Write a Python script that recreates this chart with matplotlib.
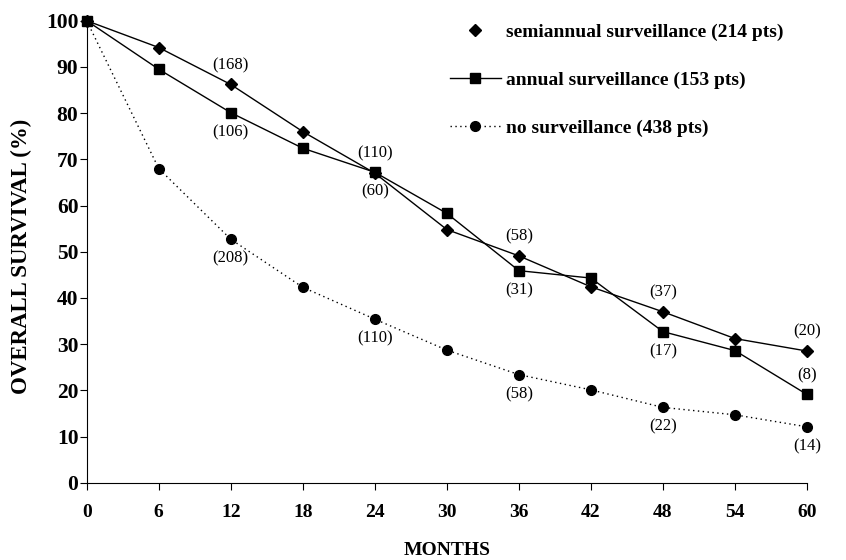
import matplotlib
matplotlib.use("Agg")
import matplotlib.pyplot as plt
from matplotlib.lines import Line2D

plt.rcParams['font.family'] = ['Liberation Serif', 'DejaVu Serif']

# data
months = [0, 6, 12, 18, 24, 30, 36, 42, 48, 54, 60]
semiannual = [100, 94.2, 86.2, 76.0, 67.0, 54.8, 49.1, 42.4, 37.0, 31.2, 28.5]
annual = [100, 89.5, 80.1, 72.4, 67.2, 58.3, 45.9, 44.3, 32.7, 28.6, 19.1]
no_surv = [100, 68.0, 52.7, 42.3, 35.4, 28.7, 23.4, 20.1, 16.3, 14.7, 12.1]

labels = ["semiannual surveillance (214 pts)",
          "annual surveillance (153 pts)",
          "no surveillance (438 pts)"]

# patients at risk: (month, text) and for annual also above(+1)/below(-1)
semi_risk = [(12, "(168)"), (24, "(110)"), (36, "(58)"), (48, "(37)"), (60, "(20)")]
annual_risk = [(12, "(106)", -1), (24, "(60)", -1), (36, "(31)", -1), (48, "(17)", -1), (60, "(8)", 1)]
no_risk = [(12, "(208)"), (24, "(110)"), (36, "(58)"), (48, "(22)"), (60, "(14)")]

fig = plt.figure(figsize=(8.46, 5.6), dpi=100)
ax = fig.add_axes([0.1025, 0.138, 0.8514, 0.825])

ax.plot(months, semiannual, '-', color='black', lw=1.0, marker='D', ms=6.5, clip_on=False, zorder=3)
ax.plot(months, annual, '-', color='black', lw=1.0, marker='s', ms=7.5, clip_on=False, zorder=3)
ax.plot(months, no_surv, linestyle=(0, (1, 2.5)), color='black', lw=1.0, marker='o', ms=7, clip_on=False, zorder=3)

def val(series, m):
    return series[months.index(m)]

for m, t in semi_risk:
    ax.annotate(t, (m, val(semiannual, m)), xytext=(0, 14), textcoords='offset points',
                ha='center', va='center', fontsize=12)
for m, t, d in annual_risk:
    ax.annotate(t, (m, val(annual, m)), xytext=(0, 14 * d), textcoords='offset points',
                ha='center', va='center', fontsize=12)
for m, t in no_risk:
    ax.annotate(t, (m, val(no_surv, m)), xytext=(0, -14), textcoords='offset points',
                ha='center', va='center', fontsize=12)

ax.set_xlim(0, 60)
ax.set_ylim(0, 100)
ax.set_xticks(months)
ax.set_yticks(range(0, 101, 10))
ax.spines['top'].set_visible(False)
ax.spines['right'].set_visible(False)
ax.tick_params(axis='x', direction='out', length=5, pad=10, labelsize=14)
ax.tick_params(axis='y', direction='out', length=5, pad=1, labelsize=15.5)
for lab in ax.get_xticklabels() + ax.get_yticklabels():
    lab.set_fontweight('bold')

ax.set_xlabel("MONTHS", fontsize=14, fontweight='bold')
ax.xaxis.set_label_coords(0.5, -0.1457)
ax.xaxis.label.set_va('center')
ax.set_ylabel("OVERALL SURVIVAL (%)", fontsize=16.5, fontweight='bold')
ax.yaxis.set_label_coords(-0.09, 0.49)
ax.yaxis.label.set_va('center')

handles = [
    Line2D([], [], linestyle='none', color='black', marker='D', ms=6.5),
    Line2D([], [], linestyle='-', color='black', lw=1.0, marker='s', ms=7),
    Line2D([], [], linestyle=(0, (1, 2.5)), color='black', lw=1.0, marker='o', ms=7),
]
ax.legend(handles, labels, loc='upper left', bbox_to_anchor=(450 / 846, 1 - 23 / 560),
          bbox_transform=fig.transFigure, frameon=False, borderpad=0, borderaxespad=0,
          handlelength=2.6, handletextpad=0.3, labelspacing=1.56,
          prop={'weight': 'bold', 'size': 14})

fig.savefig("out.png", dpi=100)
